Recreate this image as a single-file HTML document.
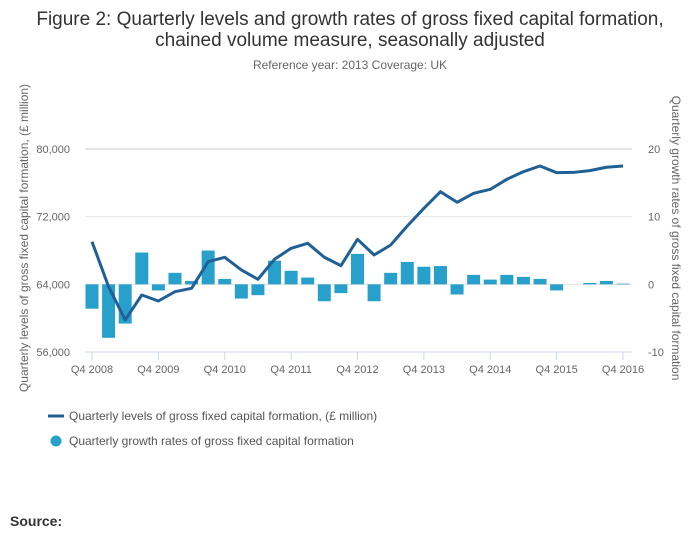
<!DOCTYPE html>
<html><head><meta charset="utf-8"><style>
body{margin:0;background:#fff;font-family:"Liberation Sans",sans-serif;}
svg text{font-family:"Liberation Sans",sans-serif;}
</style></head><body>
<svg id="c" width="700" height="549" xmlns="http://www.w3.org/2000/svg">
<text x="350" y="25" text-anchor="middle" font-size="19" fill="#333">Figure 2: Quarterly levels and growth rates of gross fixed capital formation,</text>
<text x="350" y="46" text-anchor="middle" font-size="19" fill="#333">chained volume measure, seasonally adjusted</text>
<text x="350" y="69" text-anchor="middle" font-size="12" fill="#666">Reference year: 2013 Coverage: UK</text>
<g id="grid"></g><g id="bars"></g><g id="line"></g><g id="axes"></g>
<text transform="translate(28,238) rotate(-90)" text-anchor="middle" font-size="12" fill="#666">Quarterly levels of gross fixed capital formation, (£ million)</text>
<text transform="translate(672,238) rotate(90)" text-anchor="middle" font-size="12" fill="#666">Quarterly growth rates of gross fixed capital formation</text>
<g><line x1="48" y1="416" x2="64" y2="416" stroke="#206095" stroke-width="3"/><text x="69" y="420" font-size="12" fill="#555">Quarterly levels of gross fixed capital formation, (£ million)</text></g>
<g><circle cx="56" cy="441" r="5.5" fill="#27a0cc"/><text x="69" y="445" font-size="12" fill="#555">Quarterly growth rates of gross fixed capital formation</text></g>
<text x="10" y="526" font-size="14" font-weight="bold" fill="#333">Source:</text>
</svg>
<script>
const quarters=["Q4 2008","Q1 2009","Q2 2009","Q3 2009","Q4 2009","Q1 2010","Q2 2010","Q3 2010","Q4 2010","Q1 2011","Q2 2011","Q3 2011","Q4 2011","Q1 2012","Q2 2012","Q3 2012","Q4 2012","Q1 2013","Q2 2013","Q3 2013","Q4 2013","Q1 2014","Q2 2014","Q3 2014","Q4 2014","Q1 2015","Q2 2015","Q3 2015","Q4 2015","Q1 2016","Q2 2016","Q3 2016","Q4 2016"];
const levels=[69040,63720,59790,62740,62030,63130,63530,66680,67200,65700,64600,66960,68260,68850,67200,66210,69320,67470,68650,70900,72990,74950,73700,74760,75230,76420,77320,77990,77200,77230,77440,77840,77990];
const growth=[-3.6,-7.9,-5.8,4.7,-0.9,1.7,0.5,5.0,0.8,-2.1,-1.6,3.5,2.0,1.0,-2.5,-1.3,4.5,-2.5,1.7,3.3,2.6,2.7,-1.5,1.4,0.7,1.4,1.1,0.8,-0.9,0.0,0.2,0.5,0.1];
const leftTicks=[56000,64000,72000,80000];
const rightTicks=[-10,0,10,20];
const xTickLabels=["Q4 2008","Q4 2009","Q4 2010","Q4 2011","Q4 2012","Q4 2013","Q4 2014","Q4 2015","Q4 2016"];
const NS="http://www.w3.org/2000/svg";
const X0=92,X1=623,YT=149,YB=352;
const xs=i=>X0+(X1-X0)*i/(quarters.length-1);
const yL=v=>YB-(v-56000)/(80000-56000)*(YB-YT);
const yR=v=>YB-(v+10)/30*(YB-YT);
function mk(t,a,p){const e=document.createElementNS(NS,t);for(const k in a)e.setAttribute(k,a[k]);document.getElementById(p).appendChild(e);return e;}
leftTicks.forEach((v,i)=>{
 const g=mk("line",{x1:85,x2:632,y1:yL(v),y2:yL(v),stroke:i==0?"#ccd6eb":"#e6e6e6","stroke-width":i==leftTicks.length-1?2:1},"grid");
 
 
 const t=mk("text",{x:70,y:yL(v)+4,"text-anchor":"end","font-size":11,fill:"#666"},"axes");t.textContent=v.toLocaleString("en-GB");
 
 
});
rightTicks.forEach(v=>{
 const t=mk("text",{x:648,y:yR(v)+4,"text-anchor":"start","font-size":11,fill:"#666"},"axes");t.textContent=v;
 
 
});
const z=mk("line",{x1:85,x2:632,y1:yR(0),y2:yR(0),stroke:"#e6e6e6"},"grid");


xTickLabels.forEach(l=>{
 const i=quarters.indexOf(l),x=xs(i);
 const tk=mk("line",{x1:x,x2:x,y1:YB,y2:YB+8,stroke:"#ccd6eb"},"axes");
 
 
 const t=mk("text",{x:x,y:YB+21,"text-anchor":"middle","font-size":11,fill:"#666"},"axes");t.textContent=l;
 
 
});
growth.forEach((g,i)=>{
 const y0=yR(0),y1=yR(g);
 const b=mk("rect",{x:xs(i)-6.5,y:Math.min(y0,y1),width:13,height:Math.abs(y1-y0),fill:"#27a0cc"},"bars");
 
 
});
const p=mk("polyline",{points:levels.map((v,i)=>xs(i)+","+yL(v)).join(" "),fill:"none",stroke:"#206095","stroke-width":3,"stroke-linejoin":"round"},"line");


</script>
</body></html>
